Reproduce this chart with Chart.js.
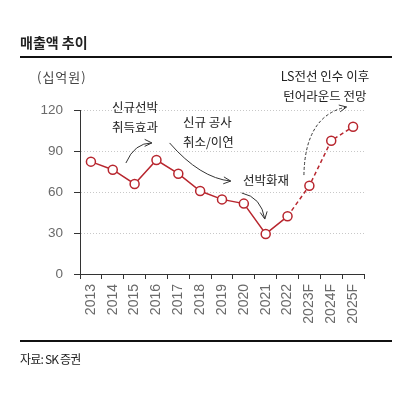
<!DOCTYPE html>
<html>
<head>
<meta charset="utf-8">
<script src="https://cdn.jsdelivr.net/npm/chart.js@4"></script>
<style>
  body { margin: 0; background: #fff; }
  #wrap { position: relative; width: 400px; height: 393px; overflow: hidden; }
  #c { position: absolute; left: 0; top: 0; }
  .txt { position: absolute; font-family: "Noto Sans CJK KR", sans-serif; color: #222; white-space: nowrap; }
  .rule { position: absolute; left: 20px; width: 372px; height: 2px; background: #111; }
</style>
</head>
<body>
<div id="wrap">
  <canvas id="c" width="400" height="393"></canvas>
  <div class="txt" style="left:20px; top:32px; font-size:14px; font-weight:bold;">매출액 추이</div>
  <div class="rule" style="top:56px;"></div>
  <div class="txt" style="left:37px; top:67px; font-size:13px; color:#444; letter-spacing:1px;">(십억원)</div>
  <div class="rule" style="top:340px;"></div>
  <div class="txt" style="left:20px; top:350px; font-size:12px; letter-spacing:-0.8px;">자료: SK 증권</div>
</div>
<script>
const years = ['2013','2014','2015','2016','2017','2018','2019','2020','2021','2022','2023F','2024F','2025F'];
const revenue = [82.2, 76.3, 65.9, 83.4, 73.4, 60.7, 54.6, 51.5, 29.3, 42.2, 64.6, 97.5, 107.8];
const yTicks = [0, 30, 60, 90, 120];
const firstForecast = 9; // line turns dashed after 2022

// notes placed in chart values: [category index, value]
const notes = [
  { text: '신규선박', at: [0.96, 122.2], align: 'left' },
  { text: '취득효과', at: [0.96, 107.6], align: 'left' },
  { text: '신규 공사', at: [4.21, 111.2], align: 'left' },
  { text: '취소/이연', at: [4.21, 96.6], align: 'left' },
  { text: '선박화재', at: [6.96, 68.8], align: 'left' },
  { text: 'LS전선 인수 이후', at: [10.71, 144.9], align: 'center' },
  { text: '턴어라운드 전망', at: [10.71, 130.2], align: 'center' }
];
// curved arrows: start, control, end
const arrows = [
  { from: [1.6, 81.2], ctrl: [2.0, 96], to: [2.79, 95.9], dash: [] },
  { from: [3.6, 95.9], ctrl: [5.0, 70.2], to: [6.4, 68], dash: [] },
  { from: [6.9, 59.3], ctrl: [7.8, 56.3], to: [7.96, 40.2], dash: [] },
  { from: [9.75, 72.4], ctrl: [9.8, 116], to: [11.7, 122.2], dash: [3, 2] }
];

const lineRed = '#b8262e';

const notePlugin = {
  id: 'notes',
  afterDatasetsDraw(chart) {
    const ctx = chart.ctx;
    const xs = chart.scales.x, ys = chart.scales.y;
    const px = p => [xs.getPixelForValue(p[0]), ys.getPixelForValue(p[1])];
    ctx.save();
    ctx.fillStyle = '#222';
    ctx.font = '12.5px "Noto Sans CJK KR"';
    ctx.textBaseline = 'middle';
    notes.forEach(n => {
      const p = px(n.at);
      ctx.textAlign = n.align;
      ctx.fillText(n.text, p[0], p[1]);
    });
    ctx.strokeStyle = '#333';
    ctx.lineWidth = 1;
    arrows.forEach(a => {
      const s = px(a.from), c = px(a.ctrl), e = px(a.to);
      ctx.setLineDash(a.dash);
      ctx.beginPath();
      ctx.moveTo(s[0], s[1]);
      ctx.quadraticCurveTo(c[0], c[1], e[0], e[1]);
      ctx.stroke();
      ctx.setLineDash([]);
      const ang = Math.atan2(e[1] - c[1], e[0] - c[0]);
      ctx.beginPath();
      ctx.moveTo(e[0] - 8 * Math.cos(ang - 0.45), e[1] - 8 * Math.sin(ang - 0.45));
      ctx.lineTo(e[0], e[1]);
      ctx.lineTo(e[0] - 8 * Math.cos(ang + 0.45), e[1] - 8 * Math.sin(ang + 0.45));
      ctx.stroke();
    });
    ctx.restore();
  }
};

new Chart(document.getElementById('c'), {
  type: 'line',
  data: {
    labels: years,
    datasets: [{
      data: revenue,
      borderColor: lineRed,
      borderWidth: 1.5,
      pointRadius: 4.5,
      pointHoverRadius: 4.5,
      pointBackgroundColor: '#fff',
      pointBorderColor: lineRed,
      pointBorderWidth: 1.5,
      segment: {
        borderDash: ctx => ctx.p0DataIndex >= firstForecast ? [4, 3] : []
      }
    }]
  },
  options: {
    responsive: false,
    devicePixelRatio: 1,
    animation: false,
    layout: { padding: { top: 110, right: 36, left: 0, bottom: 0 } },
    plugins: { legend: { display: false }, tooltip: { enabled: false } },
    scales: {
      x: {
        offset: true,
        afterFit: s => { s.height = 119; },
        grid: { offset: true, drawOnChartArea: false, tickLength: 5, color: '#333', tickBorderDash: [] },
        border: { color: '#333' },
        ticks: {
          minRotation: 90, maxRotation: 90, padding: 5,
          color: '#6a6a6a', font: { family: 'Liberation Sans', size: 14 }
        }
      },
      y: {
        min: 0, max: 120,
        afterFit: s => { s.width = 80; },
        afterBuildTicks: s => { s.ticks = yTicks.map(v => ({ value: v })); },
        grid: { color: '#c8c8c8', tickColor: '#333', tickLength: 6, tickBorderDash: [] },
        border: { color: '#333', dash: [1, 2] },
        ticks: { padding: 11, color: '#6a6a6a', font: { family: 'Liberation Sans', size: 13.5 } }
      }
    }
  },
  plugins: [notePlugin]
});
</script>
</body>
</html>
